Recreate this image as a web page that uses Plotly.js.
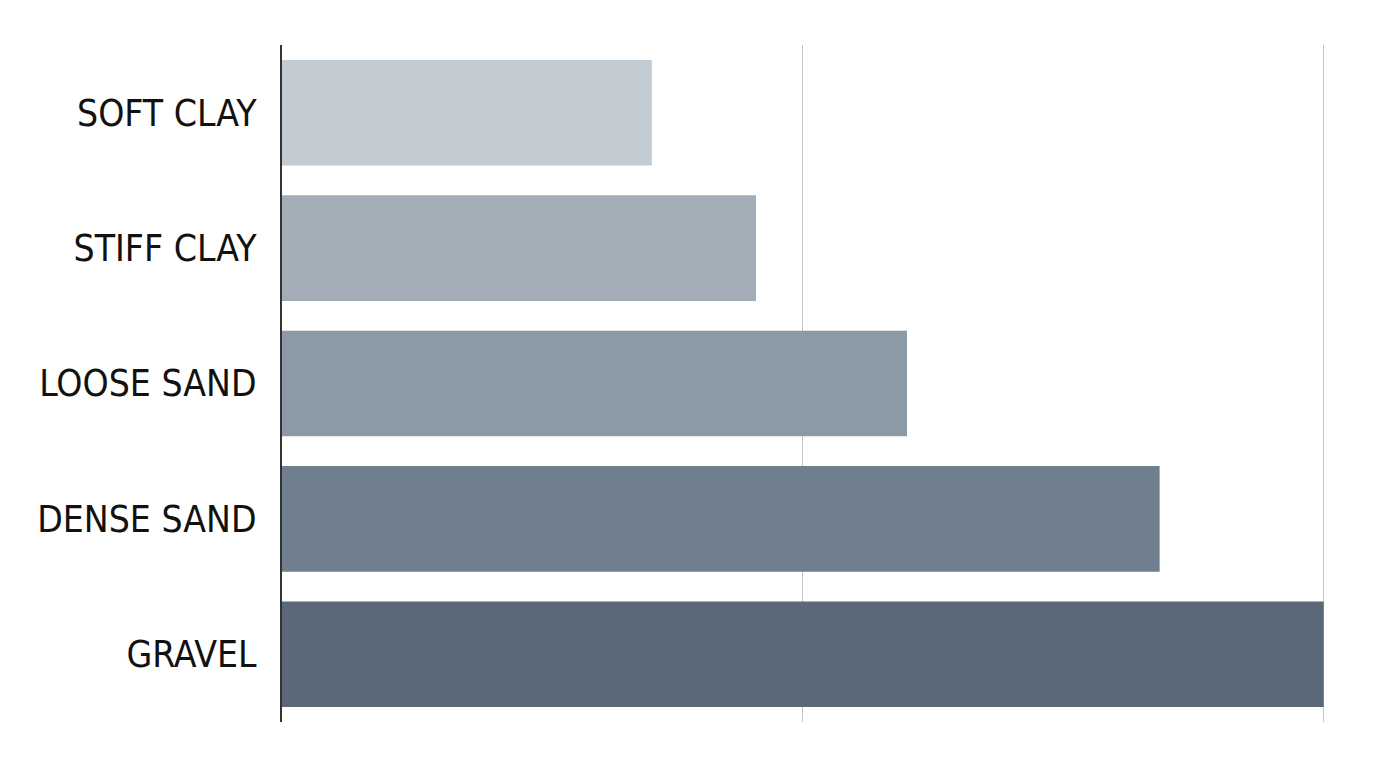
<!DOCTYPE html>
<html>
<head>
    <meta charset="UTF-8">
    <script src="https://cdn.plot.ly/plotly-3.0.1.min.js"></script>
    <style>
        html, body { margin: 0; padding: 0; background: #ffffff; }
        #chart { width: 1376px; height: 768px; }
    </style>
</head>
<body>
    <div id="chart"></div>
    <script>
        // soil types, top to bottom
        const soils = ['SOFT CLAY', 'STIFF CLAY', 'LOOSE SAND', 'DENSE SAND', 'GRAVEL'];
        const capacity = [142, 182, 240, 337, 400];
        const barColors = ['#c2cad2', '#a3adb8', '#8c99a7', '#6f7f8d', '#5a6878'];

        const trace = {
            type: 'bar',
            orientation: 'h',
            y: soils,
            x: capacity,
            marker: { color: barColors, line: { width: 0 } },
            hoverinfo: 'none'
        };

        const layout = {
            width: 1376,
            height: 768,
            margin: { l: 282, r: 51, t: 45, b: 46 },
            paper_bgcolor: '#ffffff',
            plot_bgcolor: '#ffffff',
            showlegend: false,
            bargap: 0.22,
            font: { family: 'DejaVu Sans Condensed, Liberation Sans Narrow, sans-serif', color: '#111111' },
            xaxis: {
                range: [0, 400.5],
                tickvals: [200, 400],
                showticklabels: false,
                showgrid: true,
                gridcolor: '#c4c4c4',
                gridwidth: 1,
                zeroline: false,
                showline: false,
                fixedrange: true
            },
            yaxis: {
                autorange: 'reversed',
                showline: true,
                linecolor: '#333333',
                linewidth: 2,
                showgrid: false,
                ticks: '',
                ticklabelstandoff: 16,
                tickfont: { size: 37, color: '#111111' },
                fixedrange: true
            }
        };

        Plotly.newPlot('chart', [trace], layout, { staticPlot: true });
    </script>
</body>
</html>
